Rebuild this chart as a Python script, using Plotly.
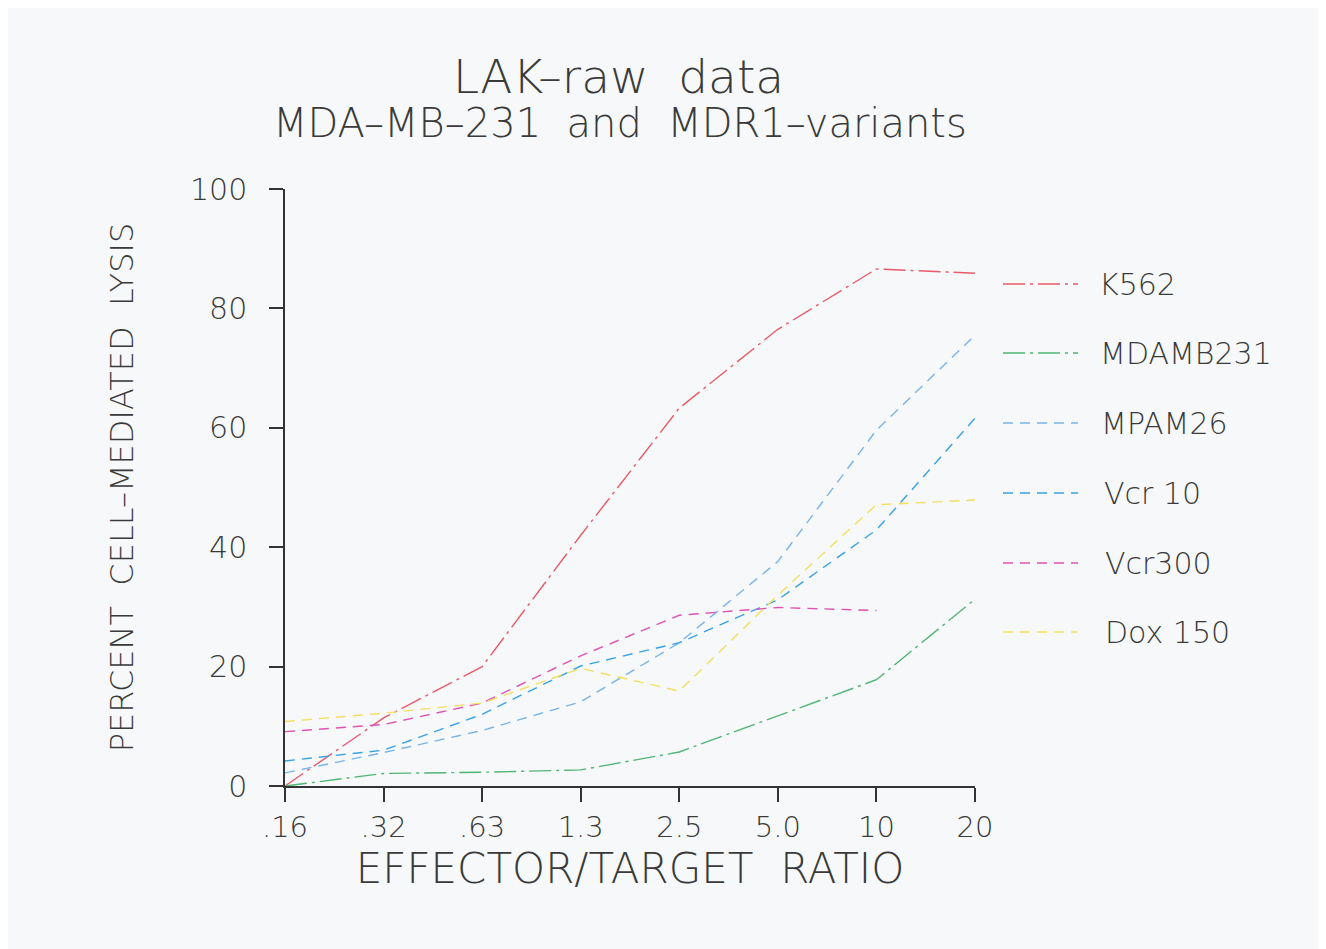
import plotly.graph_objects as go

# ---- data ----
ratios = [".16", ".32", ".63", "1.3", "2.5", "5.0", "10", "20"]
k562 = [0, 11.4, 20.0, 42.0, 63.3, 76.5, 86.6, 85.9]
mdamb231 = [0, 2.1, 2.3, 2.7, 5.7, 11.7, 17.8, 31.3]
mpam26 = [2.2, 5.6, 9.3, 14.1, 24.0, 37.6, 59.6, 75.5]
vcr10 = [4.2, 6.0, 12.0, 20.1, 24.0, 31.2, 42.9, 61.6]
vcr300 = [9.1, 10.3, 13.9, 21.8, 28.6, 29.9, 29.4]
dox150 = [10.8, 12.2, 13.9, 19.7, 15.9, 32.0, 47.1, 47.9]
y_ticks = [0, 20, 40, 60, 80, 100]

series_names = ["K562", "MDAMB231", "MPAM26", "Vcr10", "Vcr300", "Dox150"]
series_values = [k562, mdamb231, mpam26, vcr10, vcr300, dox150]
legend_labels = ["K562", "MDAMB231", "MPAM26", "Vcr 10", "Vcr300", "Dox 150"]

# ---- style ----
colors = ["#e95a68", "#4fb574", "#78b4ea", "#38a2e3", "#e052b7", "#f3df5f"]
dashdot = "22px,5px,3px,5px"
dashed = "10px,7px"
dashes = [dashdot, dashdot, dashed, dashed, dashed, dashed]
FONT = "DejaVu Sans ExtraLight, DejaVu Sans"
WT = 200
TXT = "#3a3a3a"
BG = "#f6f8f9"

OFF = 8  # page body margin
W, H = 1326, 949
L, R, T, B = 285 - OFF, 975 - OFF, 189 - OFF, 786 - OFF  # plot area in figure pixels


def px_x(p):
    return (p - OFF - L) / (R - L)


def px_y(p):
    return (B - (p - OFF)) / (B - T)


fig = go.Figure()
for name, vals, c, d in zip(series_names, series_values, colors, dashes):
    fig.add_trace(go.Scatter(
        x=ratios[:len(vals)], y=vals, mode="lines", name=name,
        line=dict(color=c, width=1.4, dash=d), showlegend=False,
    ))

# legend drawn as samples + labels
leg_y = [284, 353, 423, 493, 563, 632]
leg_tx = [1097, 1098, 1099, 1102, 1103, 1103]
shapes = []
annotations = []
for lab, c, d, yy, tx in zip(legend_labels, colors, dashes, leg_y, leg_tx):
    shapes.append(dict(type="line", xref="paper", yref="paper",
                       x0=px_x(1003), x1=px_x(1078), y0=px_y(yy), y1=px_y(yy),
                       line=dict(color=c, width=1.4, dash=d)))
    annotations.append(dict(text=lab, xref="paper", yref="paper",
                            x=px_x(tx), y=px_y(yy), xanchor="left", yanchor="middle",
                            showarrow=False,
                            font=dict(family=FONT, size=30, color=TXT, weight=WT)))

# titles
annotations.append(dict(text="LAK\u2013raw  data", xref="paper", yref="paper",
                        x=px_x(618), y=px_y(77), xanchor="center", yanchor="middle",
                        showarrow=False,
                        font=dict(family=FONT, size=47, color=TXT, weight=WT)))
annotations.append(dict(text="MDA\u2013MB\u2013231  and  MDR1\u2013variants", xref="paper", yref="paper",
                        x=px_x(620), y=px_y(123), xanchor="center", yanchor="middle",
                        showarrow=False,
                        font=dict(family=FONT, size=40, color=TXT, weight=WT)))

fig.update_layout(
    width=W, height=H,
    margin=dict(l=L, r=W - R, t=T, b=H - B, pad=0),
    paper_bgcolor=BG, plot_bgcolor=BG,
    shapes=shapes, annotations=annotations,
    font=dict(family=FONT, color=TXT),
)
fig.update_xaxes(
    type="category", categoryorder="array", categoryarray=ratios,
    range=[0, len(ratios) - 1],
    showgrid=False, zeroline=False, showline=True, linecolor="#333", linewidth=1.5,
    ticks="outside", ticklen=14, tickwidth=1.5, tickcolor="#333",
    tickfont=dict(family=FONT, size=29, color=TXT, weight=WT),
    title=dict(text="EFFECTOR/TARGET  RATIO", standoff=8,
               font=dict(family=FONT, size=42, color=TXT, weight=WT)),
)
fig.update_yaxes(
    range=[0, 100], tickvals=y_ticks,
    showgrid=False, zeroline=False, showline=True, linecolor="#333", linewidth=1.5,
    ticks="outside", ticklen=14, tickwidth=1.5, tickcolor="#333",
    ticklabelstandoff=16,
    tickfont=dict(family=FONT, size=30, color=TXT, weight=WT),
    title=dict(text="PERCENT  CELL\u2013MEDIATED  LYSIS", standoff=47,
               font=dict(family=FONT, size=32, color=TXT, weight=WT)),
)

fig.write_html("out.html")
